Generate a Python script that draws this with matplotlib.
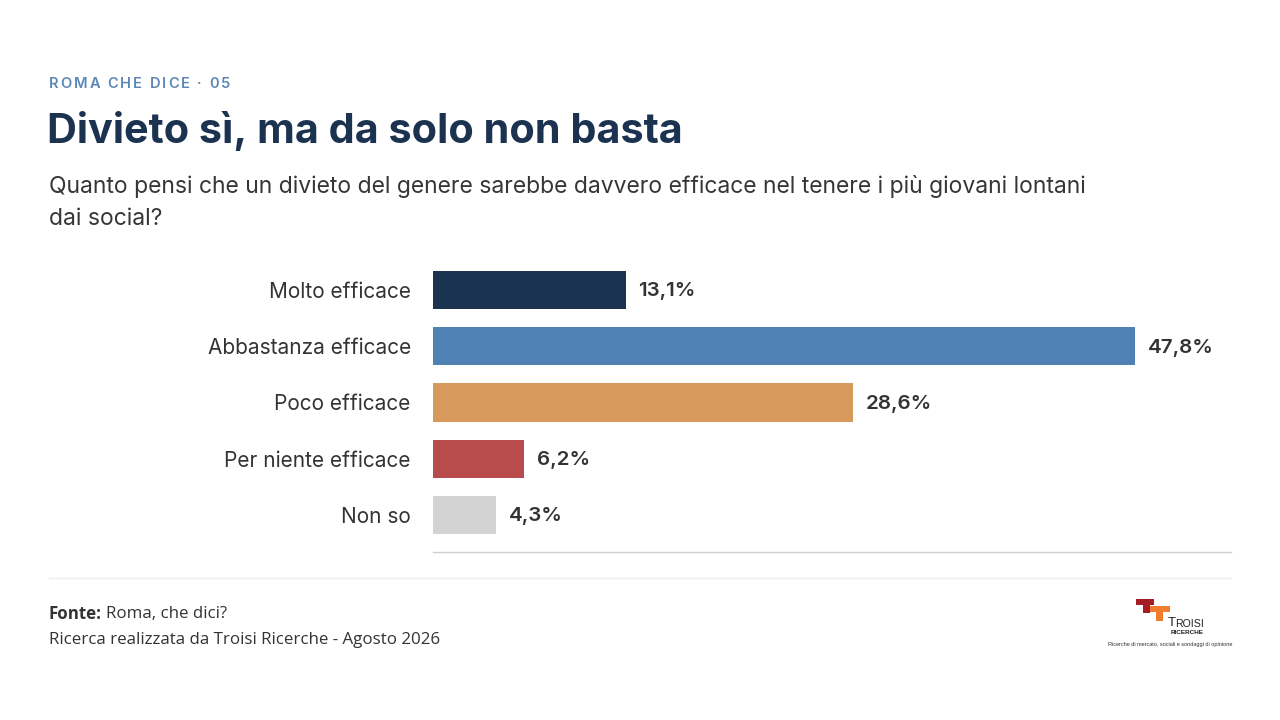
import matplotlib
matplotlib.use("Agg")
import matplotlib.pyplot as plt
from matplotlib.patches import Rectangle

categories = ["Molto efficace", "Abbastanza efficace", "Poco efficace",
              "Per niente efficace", "Non so"]
values = [13.1, 47.8, 28.6, 6.2, 4.3]
value_labels = ["13,1%", "47,8%", "28,6%", "6,2%", "4,3%"]
colors = ["#1b3350", "#4f81b5", "#d89a5c", "#b84c4c", "#d3d3d3"]

kicker = "ROMA CHE DICE · 05"
title = "Divieto sì, ma da solo non basta"
subtitle_lines = ["Quanto pensi che un divieto del genere sarebbe davvero efficace nel tenere i più giovani lontani",
                  "dai social?"]
source_label = "Fonte:"
source_text = "Roma, che dici?"
note_text = "Ricerca realizzata da Troisi Ricerche - Agosto 2026"

W, H = 1280, 720
fig = plt.figure(figsize=(12.8, 7.2), dpi=100)
fig.patch.set_facecolor("white")
renderer = fig.canvas.get_renderer()


def fy(y):
    return 1 - y / H


def fx(x):
    return x / W


def text_width(s, **kw):
    t = fig.text(0, 0, s, **kw)
    w = t.get_window_extent(renderer).width
    t.remove()
    return w


def spaced_text(x0, y, s, spacing, **kw):
    ref = text_width("H", **kw)
    for i, ch in enumerate(s):
        if ch == " ":
            continue
        pos = text_width(s[:i] + "H", **kw) - ref if i > 0 else 0
        fig.text(fx(x0 + pos + i * spacing), fy(y), ch, va="center", ha="left", **kw)


# Header
spaced_text(49, 84, kicker, 1.95, family="Inter", weight="semibold",
            fontsize=10.5, color="#5b86b5")
fig.text(fx(47), fy(131), title, family="Inter",
         weight="bold", fontsize=29.8, color="#1b3350", va="center", ha="left")
fig.text(fx(49), fy(187), subtitle_lines[0],
         family="Inter", fontsize=16.5, color="#363636", va="center", ha="left")
fig.text(fx(49), fy(219), subtitle_lines[1],
         family="Inter", fontsize=16.5, color="#363636", va="center", ha="left")

# Chart
ax = fig.add_axes([fx(433), fy(552), fx(1231) - fx(433), (552 - 253) / H])
ypos = list(range(len(categories)))
ax.barh(ypos, values, height=0.68, color=colors)
ax.set_xlim(0, 54.3)
ax.set_ylim(len(categories) - 0.34, -0.66)
ax.set_yticks(ypos)
ax.set_yticklabels(categories, family="Inter", fontsize=15, color="#333333")
ax.tick_params(axis="y", length=0, pad=16)
ax.set_xticks([])
for s in ["top", "right", "left"]:
    ax.spines[s].set_visible(False)
ax.spines["bottom"].set_color("#d0d0d0")
ax.spines["bottom"].set_linewidth(1)
for y, v, lab in zip(ypos, values, value_labels):
    ax.annotate(lab, (v, y), xytext=(9, -1), textcoords="offset points",
                va="center", ha="left", family="Inter", weight="semibold",
                fontsize=14.8, color="#333333")

# Separator
fig.add_artist(plt.Line2D([fx(49), fx(1231)], [fy(578), fy(578)],
                          color="#ececec", linewidth=1))

# Footer
t = fig.text(fx(49), fy(614), source_label, family="Open Sans", weight="bold",
             fontsize=12.2, color="#333333", va="center", ha="left")
bb = t.get_window_extent(renderer)
fig.text(bb.x1 / W + 4 / W, fy(614), source_text, family="Open Sans",
         fontsize=12.2, color="#333333", va="center", ha="left")
fig.text(fx(49), fy(640), note_text,
         family="Open Sans", fontsize=12.2, color="#333333", va="center", ha="left")


# Logo
def rect(x0, y0, x1, y1, c):
    fig.add_artist(Rectangle((fx(x0), fy(y1)), fx(x1) - fx(x0), (y1 - y0) / H,
                             transform=fig.transFigure, color=c, lw=0))


rect(1136, 599, 1154, 605, "#a51c24")
rect(1143, 605, 1150, 613, "#a51c24")
rect(1150, 606, 1170, 612, "#ef7d2d")
rect(1156, 612, 1163, 621, "#ef7d2d")
fig.text(fx(1168), fy(623.5), "T", family="Liberation Sans", fontsize=9.5,
         color="#222222", va="center", ha="left")
fig.text(fx(1175), fy(624.2), "ROISI", family="Liberation Sans", fontsize=7.6,
         color="#222222", va="center", ha="left")
fig.text(fx(1170.5), fy(632), "RICERCHE", family="Liberation Sans", fontsize=4.6,
         weight="bold", color="#222222", va="center", ha="left")
fig.text(fx(1232), fy(644.5), "Ricerche di mercato, sociali e sondaggi di opinione",
         family="Liberation Sans", fontsize=4.0, color="#333333", va="center", ha="right")

fig.savefig("out.png", dpi=100, facecolor="white")
